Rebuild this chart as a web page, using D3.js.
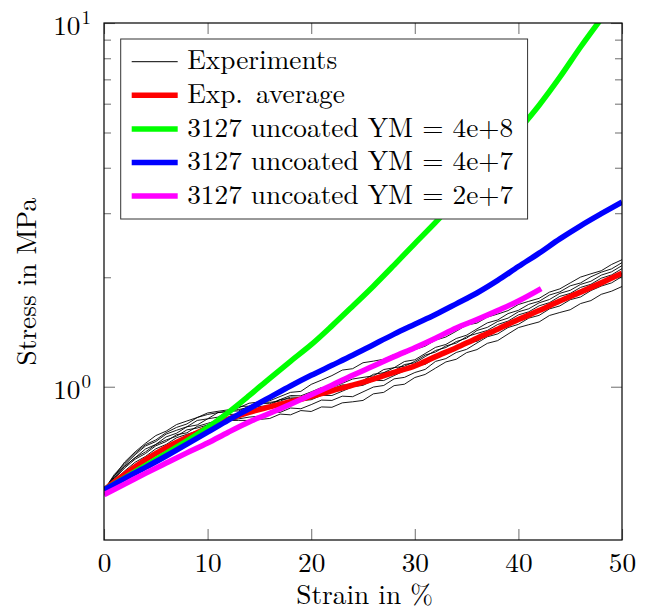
<!DOCTYPE html>
<html>
<head>
<meta charset="utf-8">
<script src="https://cdn.jsdelivr.net/npm/d3@7"></script>
<style>
  html, body { margin: 0; padding: 0; background: #fff; }
  svg { display: block; }
</style>
</head>
<body>
<svg id="chart" width="647" height="611"></svg>
<script>
// Strain sampling for the measured curves (%)
const strainExp = [0,1,2,3,4,5,6,7,8,9,10,11,12,13,14,15,16,17,18,19,20,21,22,23,24,25,
  26,27,28,29,30,31,32,33,34,35,36,37,38,39,40,41,42,43,44,45,46,47,48,49,50];

// Individual experiments, stress in MPa
const exp1 = [.520,.569,.621,.662,.699,.734,.755,.787,.805,.823,
  .847,.856,.864,.875,.901,.908,.915,.940,.965,.971,
  1.015,1.043,1.073,1.111,1.121,1.164,1.176,1.190,1.226,1.229,
  1.265,1.293,1.343,1.370,1.421,1.478,1.496,1.554,1.584,1.619,
  1.683,1.717,1.750,1.820,1.858,1.929,2.002,2.044,2.084,2.169,2.235];
const exp2 = [.520,.574,.615,.656,.693,.714,.748,.773,.790,.823,
  .839,.849,.856,.866,.876,.900,.898,.922,.946,.944,
  .968,.995,.995,1.022,1.050,1.061,1.071,1.115,1.128,1.173,
  1.186,1.234,1.283,1.307,1.357,1.386,1.442,1.498,1.526,1.589,
  1.622,1.685,1.717,1.787,1.823,1.894,1.929,2.006,2.065,2.109,2.194];
const exp3 = [.520,.563,.604,.638,.674,.694,.728,.745,.776,.785,
  .816,.825,.856,.858,.884,.882,.889,.922,.928,.925,
  .949,.976,.975,1.002,1.000,1.040,1.050,1.093,1.106,1.151,
  1.163,1.210,1.258,1.282,1.331,1.360,1.428,1.456,1.512,1.544,
  1.607,1.638,1.701,1.737,1.806,1.841,1.911,1.950,2.027,2.070,2.153];
const exp4 = [.520,.558,.598,.632,.655,.688,.707,.738,.747,.778,
  .793,.809,.839,.841,.850,.874,.871,.895,.892,.916,
  .921,.947,.946,.972,1.000,1.009,1.040,1.040,1.073,1.106,
  1.140,1.152,1.198,1.245,1.267,1.320,1.333,1.386,1.440,1.470,
  1.530,1.591,1.620,1.653,1.720,1.788,1.820,1.856,1.930,2.010,2.050];
const exp5 = [.520,.552,.587,.620,.643,.675,.694,.724,.740,.755,
  .785,.793,.807,.816,.825,.830,.854,.850,.874,.870,
  .893,.919,.917,.942,.939,.968,.998,1.008,1.051,1.061,
  1.094,1.116,1.174,1.195,1.242,1.267,1.319,1.372,1.397,1.455,
  1.484,1.544,1.571,1.637,1.668,1.735,1.765,1.838,1.891,1.930,2.009];
const exp6 = [.520,.563,.604,.638,.662,.694,.714,.731,.761,.770,
  .785,.801,.807,.808,.808,.813,.818,.841,.837,.860,
  .855,.880,.878,.903,.909,.917,.956,.965,1.007,1.016,
  1.060,1.081,1.125,1.170,1.190,1.241,1.265,1.316,1.339,1.396,
  1.454,1.481,1.507,1.570,1.600,1.628,1.693,1.725,1.795,1.831,1.886];
const exp7 = [.520,.569,.610,.650,.687,.707,.741,.759,.776,.808,
  .816,.849,.856,.883,.884,.908,.906,.913,.937,.934,
  .959,.957,.985,1.012,1.010,1.040,1.082,1.093,1.128,1.139,
  1.174,1.222,1.246,1.295,1.318,1.373,1.401,1.428,1.483,1.515,
  1.576,1.607,1.669,1.703,1.772,1.805,1.875,1.913,1.988,2.030,2.112];
const experiments = [exp1, exp2, exp3, exp4, exp5, exp6, exp7];

// Averaged experiment and simulations (strain every 2 %)
const strainModel = [0,2,4,6,8,10,12,14,16,18,20,22,24,26,28,30,32,34,36,38,40,42,44,46,48,50];
const expAverage = [.520,.575,.630,.680,.725,.770,.815,.850,.880,.910,.940,.975,1.010,
  1.050,1.095,1.140,1.210,1.280,1.360,1.440,1.530,1.620,1.720,1.820,1.930,2.050];
const ym4e8 = [.520,.562,.607,.656,.710,.772,.850,.945,1.055,1.175,1.305,1.470,1.665,
  1.890,2.160,2.475,2.830,3.258,3.776,4.375,5.070,5.943,7.096,8.590,10.28,12.25];
const ym4e7 = [.520,.560,.600,.645,.695,.750,.810,.870,.935,1.005,1.075,1.145,1.220,
  1.305,1.395,1.485,1.580,1.690,1.810,1.960,2.140,2.330,2.550,2.770,2.990,3.220];
const strainYm2e7 = [0,2,4,6,8,10,12,14,16,18,20,22,24,26,28,30,32,34,36,38,40,42.2];
const ym2e7 = [.505,.540,.578,.617,.658,.700,.750,.800,.845,.895,.950,1.010,1.075,
  1.140,1.210,1.280,1.360,1.450,1.530,1.620,1.720,1.860];

const legendLabels = ["Experiments", "Exp. average", "3127 uncoated YM = 4e+8",
  "3127 uncoated YM = 4e+7", "3127 uncoated YM = 2e+7"];
const seriesColors = ["#000000", "#ff0000", "#00ff00", "#0000ff", "#ff00ff"];

const xTicks = [0, 10, 20, 30, 40, 50];
const yMajor = [1, 10];
const yMinor = [2, 3, 4, 5, 6, 7, 8, 9];

// ---- layout ----
const svg = d3.select("#chart");
const pLeft = 104, pRight = 622, pTop = 23, pBottom = 540;
const x = d3.scaleLinear().domain([0, 50]).range([pLeft, pRight]);
const y = d3.scaleLog().domain([0.379, 10]).range([pBottom, pTop]);

const serif = "'Latin Modern Roman', 'CMU Serif', 'Liberation Serif', serif";
const fontSize = 27.3;
const tickColor = "#7a7a7a";

function styleText(sel, size) {
  return sel.attr("font-family", serif)
    .style("font-family", serif)
    .style("font-size", size + "px")
    .attr("fill", "#000");
}

svg.append("defs").append("clipPath").attr("id", "plotClip")
  .append("rect").attr("x", pLeft).attr("y", pTop)
  .attr("width", pRight - pLeft).attr("height", pBottom - pTop);

// axes (ticks point inward on all four sides)
const gx = svg.append("g").attr("transform", `translate(0,${pBottom})`)
  .call(d3.axisBottom(x).tickValues(xTicks).tickSize(-11).tickFormat(d3.format("d")));
gx.attr("font-family", serif);
styleText(gx.selectAll("text").attr("dy", null).attr("y", 32), fontSize);

const gxTop = svg.append("g").attr("transform", `translate(0,${pTop})`)
  .call(d3.axisTop(x).tickValues(xTicks).tickSize(-11).tickFormat(""));

const gyL = svg.append("g").attr("transform", `translate(${pLeft},0)`)
  .call(d3.axisLeft(y).tickValues(yMajor).tickSize(-11).tickFormat(""));
const gyLm = svg.append("g").attr("transform", `translate(${pLeft},0)`)
  .call(d3.axisLeft(y).tickValues(yMinor).tickSize(-7).tickFormat(""));
const gyR = svg.append("g").attr("transform", `translate(${pRight},0)`)
  .call(d3.axisRight(y).tickValues(yMajor).tickSize(-11).tickFormat(""));
const gyRm = svg.append("g").attr("transform", `translate(${pRight},0)`)
  .call(d3.axisRight(y).tickValues(yMinor).tickSize(-7).tickFormat(""));

[gx, gxTop, gyL, gyLm, gyR, gyRm].forEach(g => {
  g.select(".domain").remove();
  g.selectAll("line").attr("stroke", tickColor).attr("stroke-width", 1.1);
});

// y tick labels as powers of ten
gyL.attr("font-family", serif);
gyL.selectAll(".tick").each(function(d) {
  const t = styleText(d3.select(this).append("text"), fontSize)
    .attr("x", -13).attr("y", 11.5).attr("text-anchor", "end");
  t.append("tspan").text("10");
  t.append("tspan").attr("dx", 1).attr("dy", -11).style("font-size", "19px")
    .text(String(Math.round(Math.log10(d))));
});

// curves
const plot = svg.append("g").attr("clip-path", "url(#plotClip)");
const expLine = d3.line().x((d, i) => x(strainExp[i])).y(d => y(d));
plot.selectAll("path.exp").data(experiments).join("path")
  .attr("class", "exp").attr("d", expLine)
  .attr("fill", "none").attr("stroke", "#000").attr("stroke-width", 0.9)
  .attr("stroke-linejoin", "round");

function modelLine(xs, ys, color) {
  const line = d3.line().curve(d3.curveMonotoneX)
    .x((d, i) => x(xs[i])).y(d => y(d));
  plot.append("path").datum(ys).attr("d", line)
    .attr("fill", "none").attr("stroke", color).attr("stroke-width", 5.5)
    .attr("stroke-linejoin", "round");
}
modelLine(strainModel, expAverage, seriesColors[1]);
modelLine(strainModel, ym4e8, seriesColors[2]);
modelLine(strainModel, ym4e7, seriesColors[3]);
modelLine(strainYm2e7, ym2e7, seriesColors[4]);

// frame
svg.append("rect").attr("x", pLeft).attr("y", pTop)
  .attr("width", pRight - pLeft).attr("height", pBottom - pTop)
  .attr("fill", "none").attr("stroke", "#000").attr("stroke-width", 1.2);

// axis titles
styleText(svg.append("text"), fontSize)
  .attr("x", 364.6).attr("y", 604)
  .attr("text-anchor", "middle").text("Strain in %");
styleText(svg.append("text"), fontSize)
  .attr("transform", "translate(35.5,281.7) rotate(-90)")
  .attr("text-anchor", "middle").text("Stress in MPa");

// legend
const legX = 120.7, legY = 39, rowH = 33.6;
const leg = svg.append("g");
const legBox = leg.append("rect").attr("x", legX).attr("y", legY)
  .attr("height", 180).attr("fill", "#fff").attr("stroke", "#333").attr("stroke-width", 1);
let maxRight = 0;
legendLabels.forEach((lab, i) => {
  const cy = legY + 22.7 + i * rowH;
  leg.append("line").attr("x1", legX + 11).attr("x2", legX + 57)
    .attr("y1", cy).attr("y2", cy).attr("stroke", seriesColors[i])
    .attr("stroke-width", i === 0 ? 1 : 5.5);
  const t = styleText(leg.append("text"), fontSize)
    .attr("x", legX + 66.5).attr("y", cy + 7.6);
  // wider space after a sentence-ending period
  lab.split(". ").forEach((part, k, arr) => {
    t.append("tspan").attr("dx", k > 0 ? 4 : null)
      .text(part + (k < arr.length - 1 ? ". " : ""));
  });
  const bb = t.node().getBBox();
  maxRight = Math.max(maxRight, bb.x + bb.width);
});
legBox.attr("width", maxRight + 14 - legX);
</script>
</body>
</html>
